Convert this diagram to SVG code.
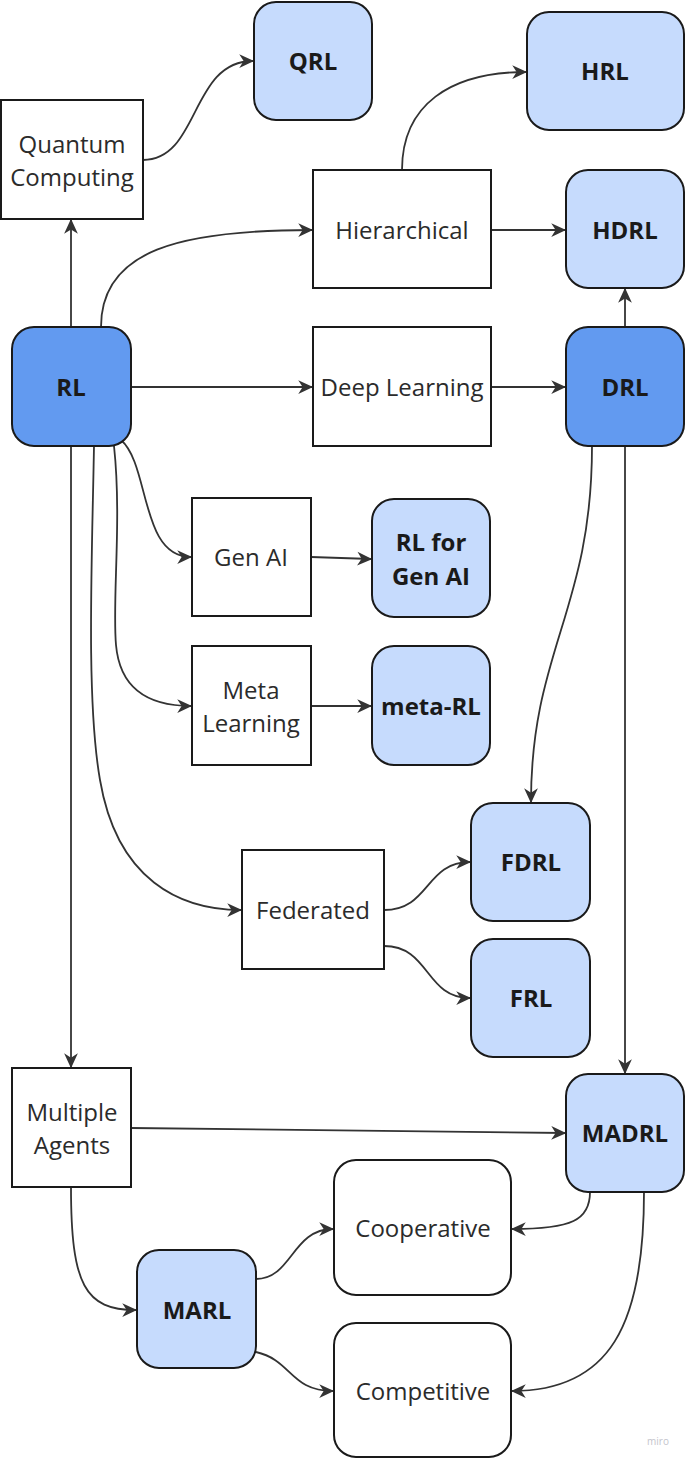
<svg xmlns="http://www.w3.org/2000/svg" width="685" height="1459" viewBox="0 0 685 1459">
<defs>
<marker id="arr" markerUnits="userSpaceOnUse" markerWidth="15" markerHeight="15" viewBox="0 0 12 12" refX="11" refY="6" orient="auto">
<path d="M0,0.5 L12,6 L0,11.5 L3.5,6 z" fill="#333333"/>
</marker>
<style>
.box{fill:#ffffff;stroke:#1a1a1a;stroke-width:2}
.lb{fill:#c6dbfd;stroke:#1a1a1a;stroke-width:2}
.db{fill:#629af0;stroke:#1a1a1a;stroke-width:2}
.t{font-family:"Open Sans","Noto Sans","DejaVu Sans",sans-serif;font-size:24px;fill:#2b2b2b;text-anchor:middle}
.b{font-family:"Open Sans","Noto Sans","DejaVu Sans",sans-serif;font-size:24px;font-weight:bold;fill:#1a1a1a;text-anchor:middle}
.c{fill:none;stroke:#333333;stroke-width:1.8;marker-end:url(#arr)}
</style>
</defs>
<rect width="685" height="1459" fill="#ffffff"/>
<g id="connectors">
<path class="c" d="M71,327 L71,220"/>
<path class="c" d="M143,160 C200,160 190,61 253,61"/>
<path class="c" d="M101,327 C101,250 180,230 312,230"/>
<path class="c" d="M402,170 C402,105 450,72 526,72"/>
<path class="c" d="M491,230 L565,230"/>
<path class="c" d="M131,387 L312,387"/>
<path class="c" d="M491,387 L565,387"/>
<path class="c" d="M625,327 L625,289"/>
<path class="c" d="M592,446 C592,610 531,650 531,802"/>
<path class="c" d="M625,446 L625,1073"/>
<path class="c" d="M71,446 L71,1067"/>
<path class="c" d="M121,440 C150,465 140,557 191,557"/>
<path class="c" d="M114,446 C122,520 112,600 116,645 C120,690 150,706 191,706"/>
<path class="c" d="M94,446 C92,560 86,700 100,780 C117,880 180,910 241,910"/>
<path class="c" d="M311,557 L371,559"/>
<path class="c" d="M311,706 L371,706"/>
<path class="c" d="M384,910 C430,910 425,862 470,862"/>
<path class="c" d="M384,946 C430,946 425,998 470,998"/>
<path class="c" d="M131,1128 L565,1133"/>
<path class="c" d="M71,1187 C71,1285 85,1310 136,1310"/>
<path class="c" d="M256,1279 C292,1279 292,1229 333,1229"/>
<path class="c" d="M256,1352 C292,1360 290,1391 333,1391"/>
<path class="c" d="M590,1192 C590,1220 572,1229 512,1229"/>
<path class="c" d="M644,1192 C644,1325 610,1391 512,1391"/>
</g>
<g id="qrl"><rect class="lb" x="254" y="2" width="118" height="118" rx="22"/><text class="b" x="313" y="70">QRL</text></g>
<g id="hrl"><rect class="lb" x="527" y="12" width="157" height="118" rx="22"/><text class="b" x="605" y="80">HRL</text></g>
<g id="quantum"><rect class="box" x="1" y="100" width="142" height="119"/><text class="t" x="72" y="153">Quantum</text><text class="t" x="72" y="186">Computing</text></g>
<g id="hierarchical"><rect class="box" x="313" y="170" width="178" height="118"/><text class="t" x="402" y="239">Hierarchical</text></g>
<g id="hdrl"><rect class="lb" x="566" y="170" width="118" height="118" rx="22"/><text class="b" x="625" y="239">HDRL</text></g>
<g id="rl"><rect class="db" x="12" y="327" width="119" height="119" rx="22"/><text class="b" x="71" y="396">RL</text></g>
<g id="deep"><rect class="box" x="313" y="327" width="178" height="119"/><text class="t" x="402" y="396">Deep Learning</text></g>
<g id="drl"><rect class="db" x="566" y="327" width="118" height="119" rx="22"/><text class="b" x="625" y="396">DRL</text></g>
<g id="genai"><rect class="box" x="192" y="498" width="119" height="118"/><text class="t" x="251" y="566">Gen AI</text></g>
<g id="rlgenai"><rect class="lb" x="372" y="499" width="118" height="118" rx="22"/><text class="b" x="431" y="551">RL for</text><text class="b" x="431" y="585">Gen AI</text></g>
<g id="meta"><rect class="box" x="192" y="646" width="119" height="119"/><text class="t" x="251" y="699">Meta</text><text class="t" x="251" y="732">Learning</text></g>
<g id="metarl"><rect class="lb" x="372" y="646" width="118" height="119" rx="22"/><text class="b" x="431" y="715">meta-RL</text></g>
<g id="fdrl"><rect class="lb" x="471" y="803" width="119" height="118" rx="22"/><text class="b" x="531" y="871">FDRL</text></g>
<g id="federated"><rect class="box" x="242" y="850" width="142" height="119"/><text class="t" x="313" y="919">Federated</text></g>
<g id="frl"><rect class="lb" x="471" y="939" width="119" height="118" rx="22"/><text class="b" x="531" y="1007">FRL</text></g>
<g id="multi"><rect class="box" x="12" y="1068" width="119" height="119"/><text class="t" x="72" y="1121">Multiple</text><text class="t" x="72" y="1154">Agents</text></g>
<g id="madrl"><rect class="lb" x="566" y="1074" width="118" height="118" rx="22"/><text class="b" x="625" y="1142">MADRL</text></g>
<g id="coop"><rect class="box" x="334" y="1160" width="177" height="135" rx="22"/><text class="t" x="423" y="1237">Cooperative</text></g>
<g id="marl"><rect class="lb" x="137" y="1250" width="119" height="118" rx="22"/><text class="b" x="197" y="1319">MARL</text></g>
<g id="comp"><rect class="box" x="334" y="1323" width="177" height="134" rx="22"/><text class="t" x="423" y="1400">Competitive</text></g>
<text x="658" y="1445" font-family="Open Sans, sans-serif" font-size="10" fill="#c4c4cc" text-anchor="middle">miro</text>
</svg>
